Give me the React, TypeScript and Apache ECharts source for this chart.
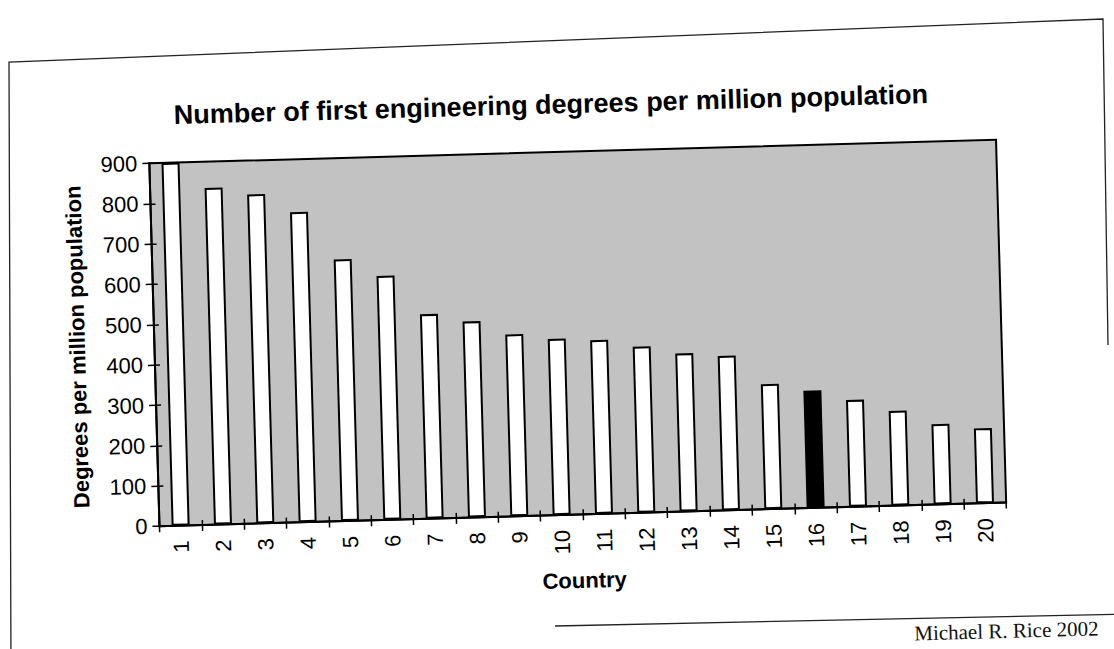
import React, { useEffect, useRef } from "react";
import * as echarts from "echarts";

const categories = ["1","2","3","4","5","6","7","8","9","10","11","12","13","14","15","16","17","18","19","20"];
const values = [900, 835, 816, 769, 649, 605, 507, 486, 451, 437, 431, 412, 392, 383, 310, 291, 265, 235, 199, 186];
const highlightedCountry = "16";
const yMin = 0;
const yMax = 900;
const yInterval = 100;
const titleText = "Number of first engineering degrees per million population";
const yName = "Degrees per million population";
const xName = "Country";
const credit = "Michael R. Rice 2002";

// page is a slightly rotated scan
const TILT_DEG = 1.6;
const OFF = 40;
const W = 1114, H = 649;
const CX = W / 2, CY = H / 2;
const TH = (TILT_DEG * Math.PI) / 180;
function P(xo: number, yo: number): number[] {
  const dx = xo - CX, dy = yo - CY;
  return [CX + dx * Math.cos(TH) - dy * Math.sin(TH) + OFF, CY + dx * Math.sin(TH) + dy * Math.cos(TH) + OFF];
}

export default function App() {
  const ref = useRef<HTMLDivElement>(null);
  useEffect(() => {
    if (!ref.current) return;
    const chart = echarts.init(ref.current, null, { renderer: "svg" });
    const font = "'Liberation Sans', Arial, sans-serif";
    const sig = P(914, 623);
    const l1 = P(555, 626);
    const l2 = P(1130, 614);
    chart.setOption({
      animation: false,
      backgroundColor: "#ffffff",
      title: {
        text: titleText,
        left: "center",
        top: 126,
        textStyle: { fontFamily: font, fontSize: 27, fontWeight: "bold", color: "#000" },
      },
      grid: {
        left: 194,
        top: 192,
        right: 153,
        bottom: 174,
        show: true,
        backgroundColor: "#c2c2c2",
        borderColor: "#000",
        borderWidth: 2,
      },
      xAxis: [
        {
          type: "category",
          data: categories,
          boundaryGap: true,
          name: xName,
          nameLocation: "middle",
          nameGap: 55,
          nameTextStyle: { fontFamily: font, fontSize: 22, fontWeight: "bold", color: "#000" },
          axisLine: { lineStyle: { color: "#000", width: 2 } },
          axisTick: { show: true, length: 6, alignWithLabel: false, lineStyle: { color: "#000", width: 1.5 } },
          axisLabel: { rotate: 90, margin: 15, fontFamily: font, fontSize: 22, color: "#000" },
          splitLine: { show: false },
        },
        {
          type: "category",
          data: categories,
          position: "bottom",
          boundaryGap: true,
          axisLine: { show: false },
          axisTick: { show: true, inside: true, length: 5, lineStyle: { color: "#000", width: 1.5 } },
          axisLabel: { show: false },
          splitLine: { show: false },
        },
      ],
      yAxis: [
        {
          type: "value",
          min: yMin,
          max: yMax,
          interval: yInterval,
          name: yName,
          nameLocation: "middle",
          nameGap: 66,
          nameRotate: 90,
          nameTextStyle: { fontFamily: font, fontSize: 22, fontWeight: "bold", color: "#000" },
          axisLine: { show: true, lineStyle: { color: "#000", width: 2 } },
          axisTick: { show: true, length: 7, lineStyle: { color: "#000", width: 1.5 } },
          axisLabel: { margin: 12, fontFamily: font, fontSize: 22, color: "#000" },
          splitLine: { show: false },
        },
        {
          type: "value",
          min: yMin,
          max: yMax,
          interval: yInterval,
          position: "left",
          axisLine: { show: false },
          axisTick: { show: true, inside: true, length: 5, lineStyle: { color: "#000", width: 1.5 } },
          axisLabel: { show: false },
          splitLine: { show: false },
        },
      ],
      series: [
        {
          type: "bar",
          xAxisIndex: 0,
          yAxisIndex: 0,
          barWidth: 18,
          data: values.map((v, i) => ({
            value: v,
            itemStyle:
              categories[i] === highlightedCountry
                ? { color: "#000", borderColor: "#000", borderWidth: 2 }
                : { color: "#fff", borderColor: "#000", borderWidth: 2 },
          })),
        },
      ],
      graphic: [
        {
          type: "polyline",
          silent: true,
          shape: { points: [P(11, 670), P(9, 62), P(1103, 19), P(1108, 345)] },
          style: { stroke: "#222", lineWidth: 1.3, fill: "none" },
        },
        {
          type: "line",
          silent: true,
          shape: { x1: l1[0], y1: l1[1], x2: l2[0], y2: l2[1] },
          style: { stroke: "#222", lineWidth: 1.3 },
        },
        {
          type: "text",
          silent: true,
          x: sig[0],
          y: sig[1],
          style: {
            text: credit,
            font: "21px 'Liberation Serif', 'Times New Roman', serif",
            fill: "#111",
            verticalAlign: "top",
            align: "left",
          },
        },
      ],
    });
    return () => chart.dispose();
  }, []);
  return (
    <div style={{ position: "fixed", left: 0, top: 0, width: W, height: H, overflow: "hidden", background: "#fff" }}>
      <div
        ref={ref}
        style={{
          position: "absolute",
          left: -OFF,
          top: -OFF,
          width: W + 2 * OFF,
          height: H + 2 * OFF,
          transform: `rotate(-${TILT_DEG}deg)`,
          transformOrigin: "50% 50%",
        }}
      />
    </div>
  );
}
